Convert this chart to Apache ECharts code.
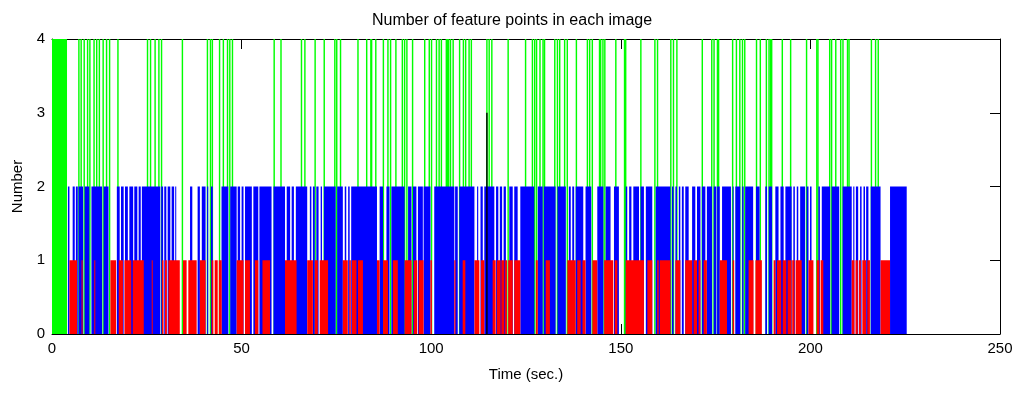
<!DOCTYPE html>
<html lang="en">
<head>
    <meta charset="UTF-8">
    <title>Number of feature points in each image</title>
    <script src="https://cdn.jsdelivr.net/npm/echarts@6/dist/echarts.min.js"></script>
    <style>
        html, body { margin: 0; padding: 0; background: #fff; }
        #graph { width: 1024px; height: 393px; }
    </style>
</head>
<body>
<div id="graph"></div>
<script>
    // samples with 4 points: start block and single-frame spikes (time in sec.)
    var greenBlock = [[0, 3.96]];
    var greenTimes = [6.9, 7.5, 8.3, 9.2, 9.8, 10.9, 11.6, 12.3, 13.3, 14.2, 15.0, 17.2, 25.0, 25.8, 27.0, 28.0, 28.7,
        34.2, 40.8, 41.6, 42.1, 44.0, 45.0, 46.1, 46.7, 47.4, 58.4, 60.2, 65.6, 66.5, 69.2, 71.6, 74.4, 74.9, 75.9,
        80.5, 82.8, 83.9, 84.1, 85.2, 87.2, 88.4, 89.1, 90.5, 92.2, 92.8, 93.4, 94.9, 98.1, 99.3, 99.9, 101.2, 101.9,
        102.5, 103.8, 104.1, 104.4, 104.9, 105.6, 107.3, 108.3, 108.9, 109.8, 110.4, 114.5, 115.1, 115.8, 120.1,
        124.7, 126.5, 127.1, 127.6, 128.5, 129.3, 129.7, 132.4, 133.1, 133.7, 135.0, 135.7, 138.1, 141.0, 141.6,
        142.3, 144.2, 144.5, 145.1, 145.6, 148.5, 150.8, 151.1, 155.1, 158.8, 159.5, 163.0, 163.7, 164.6, 171.3,
        173.8, 174.4, 175.3, 175.6, 179.3, 180.3, 181.2, 181.9, 182.5, 185.6, 186.6, 188.2, 188.9, 189.3, 189.6,
        192.4, 194.6, 198.8, 201.5, 201.8, 204.9, 205.4, 206.5, 207.8, 208.4, 209.6, 210.0, 215.9, 217.0, 217.7];
    // samples with 3 points
    var blackTimes = [114.5];
    // runs of samples with 2 points [from, to]
    var blueRuns = [[4.2, 4.6], [5.45, 6.0], [6.3, 6.8], [7.0, 8.2], [8.6, 9.85], [10.4, 13.2], [13.6, 14.9],
        [17.1, 17.85], [18.2, 18.9], [19.25, 20.0], [20.4, 21.4], [21.7, 22.5], [22.85, 23.4], [23.7, 28.55],
        [28.8, 29.3], [29.6, 30.15], [30.5, 31.2], [31.55, 32.2], [32.5, 32.7],
        [36.4, 37.0], [38.4, 39.0], [39.5, 40.5], [40.9, 41.2], [41.9, 42.4], [44.7, 46.5], [47.0, 48.7],
        [48.97, 49.6], [50.0, 50.5], [50.9, 52.7], [53.1, 54.4], [54.7, 57.9], [58.4, 61.45], [61.9, 62.8],
        [63.2, 63.8], [64.3, 67.3],
        [68.0, 68.4], [68.8, 69.3], [69.7, 70.3], [70.85, 71.2], [71.7, 74.8], [75.2, 76.7], [77.2, 77.6],
        [78.1, 78.5], [78.9, 85.7], [86.4, 87.3], [88.2, 89.0], [89.5, 93.0], [93.9, 94.8], [95.2, 96.1],
        [96.5, 97.8],
        [98.0, 99.8], [100.8, 106.1], [106.3, 107.0], [107.4, 111.4], [112.1, 112.4], [113.0, 113.6],
        [114.0, 116.65], [117.1, 117.7], [118.1, 118.7], [119.1, 119.7], [120.6, 121.5], [121.9, 122.8],
        [123.5, 127.2], [128.1, 129.4], [129.7, 132.8],
        [133.3, 135.5], [136.3, 136.8], [137.2, 137.7], [138.1, 140.1], [140.7, 142.2], [143.8, 145.4],
        [146.0, 147.3], [148.2, 149.5], [151.3, 151.7], [152.2, 152.8], [153.3, 154.8], [155.2, 156.1],
        [156.6, 158.3], [159.2, 163.1],
        [163.5, 163.9], [164.4, 164.8], [165.3, 165.7], [166.1, 166.6], [167.0, 167.9], [168.8, 169.65],
        [170.1, 171.0], [171.4, 172.3], [172.7, 174.05], [174.5, 175.2], [175.4, 176.1], [176.7, 179.05],
        [179.5, 179.75], [180.2, 181.5], [182.0, 182.4], [182.8, 184.9], [185.65, 186.6], [188.1, 188.55],
        [189.0, 189.9], [190.75, 191.6], [192.1, 192.95], [193.4, 195.06],
        [195.5, 195.9], [196.4, 196.8], [197.3, 198.6], [199.0, 199.5], [199.9, 200.3], [202.1, 202.5],
        [203.0, 205.2], [205.6, 207.6], [208.5, 210.9], [211.3, 211.6], [212.0, 212.6], [213.1, 213.5],
        [214.0, 214.4], [214.7, 215.3], [215.9, 218.5], [221.0, 225.4]];
    // runs of samples with 1 point [from, to]
    var redRuns = [[4.6, 6.6], [7.8, 8.0], [11.15, 11.35], [15.4, 16.9], [17.6, 18.7], [19.1, 20.9], [21.3, 24.2],
        [26.3, 26.5], [29.0, 29.4], [29.8, 30.3], [30.7, 33.7],
        [34.55, 35.5], [35.95, 38.15], [39.0, 40.5], [42.1, 42.55], [42.9, 43.7], [44.0, 44.75], [48.7, 50.5],
        [50.9, 52.2], [53.5, 54.4], [55.5, 57.5], [61.45, 64.5],
        [67.3, 68.8], [69.3, 70.1], [70.6, 72.8], [76.7, 78.0], [78.4, 78.8], [79.1, 80.3], [80.7, 82.0],
        [85.7, 86.4], [87.3, 88.6], [89.9, 91.2], [93.0, 94.8], [95.4, 96.3], [96.7, 98.0],
        [99.8, 100.2], [106.1, 106.4], [108.3, 109.0], [111.4, 112.7], [113.1, 114.0], [116.2, 117.0],
        [117.3, 118.3], [118.5, 119.3], [119.5, 120.0], [120.3, 121.5], [121.9, 123.5], [127.6, 128.1],
        [130.2, 131.3], [135.9, 138.1], [138.5, 139.4], [139.9, 140.7], [142.5, 143.8], [145.6, 148.0],
        [148.4, 149.1], [151.3, 156.1], [157.0, 158.3], [159.6, 160.0], [160.3, 163.1],
        [164.4, 165.7], [167.0, 168.8], [169.2, 170.1], [170.5, 171.0], [171.85, 172.7], [176.1, 178.0],
        [179.5, 179.9], [183.7, 185.0], [185.5, 187.2], [190.3, 190.8], [191.2, 192.3], [192.7, 193.65],
        [194.0, 195.0], [195.2, 195.8], [196.1, 197.7], [199.5, 200.8], [201.65, 202.35], [202.7, 203.4],
        [210.9, 211.6], [211.9, 212.5], [212.8, 213.3], [213.7, 214.7], [215.0, 215.7], [218.5, 221.0]];

    var xTicks = [0, 50, 100, 150, 200, 250];
    var yTicks = [0, 1, 2, 3, 4];

    function runs(list, v) {
        return list.map(function (r) { return [r[0], r[1], v]; });
    }
    function spikes(list, v) {
        return list.map(function (t) { return [t, t + 0.38, v]; });
    }

    function renderBar(params, api) {
        var p0 = api.coord([api.value(0), 0]);
        var p1 = api.coord([api.value(1), api.value(2)]);
        return {
            type: 'rect',
            shape: { x: p0[0], y: p1[1], width: Math.max(p1[0] - p0[0], 1), height: p0[1] - p1[1] },
            style: { fill: api.visual('color') }
        };
    }

    function barSeries(name, color, data, z) {
        return {
            name: name, type: 'custom', renderItem: renderBar, data: data, z: z,
            encode: { x: [0, 1], y: 2 }, itemStyle: { color: color }, clip: true, silent: true
        };
    }

    var font = 'Liberation Sans, Arial, sans-serif';
    var myChart = echarts.init(document.getElementById('graph'));
    function axisBase() {
        return {
            axisLine: { show: true, onZero: false, lineStyle: { color: '#000', width: 1 } },
            axisTick: { show: true, inside: true, length: 10, lineStyle: { color: '#000' } },
            splitLine: { show: false }
        };
    }
    var option = {
        animation: false,
        backgroundColor: '#fff',
        title: {
            text: 'Number of feature points in each image',
            left: 'center', top: 8,
            textStyle: { fontFamily: font, fontSize: 16, fontWeight: 'normal', color: '#000' }
        },
        grid: { left: 52, right: 24, top: 39, bottom: 59 },
        xAxis: [
            Object.assign(axisBase(), {
                type: 'value', min: xTicks[0], max: xTicks[xTicks.length - 1], interval: 50, position: 'bottom',
                name: 'Time (sec.)', nameLocation: 'middle', nameGap: 33,
                nameTextStyle: { fontFamily: font, fontSize: 15, color: '#000' },
                axisLabel: { fontFamily: font, fontSize: 15, color: '#000', margin: 7 }
            }),
            Object.assign(axisBase(), {
                type: 'value', min: xTicks[0], max: xTicks[xTicks.length - 1], interval: 50, position: 'top',
                axisLabel: { show: false }
            })
        ],
        yAxis: [
            Object.assign(axisBase(), {
                type: 'value', min: yTicks[0], max: yTicks[yTicks.length - 1], interval: 1, position: 'left',
                name: 'Number', nameLocation: 'middle', nameGap: 27,
                nameTextStyle: { fontFamily: font, fontSize: 15, color: '#000' },
                axisLabel: { fontFamily: font, fontSize: 15, color: '#000', margin: 7 }
            }),
            Object.assign(axisBase(), {
                type: 'value', min: yTicks[0], max: yTicks[yTicks.length - 1], interval: 1, position: 'right',
                axisLabel: { show: false }
            })
        ],
        series: [
            barSeries('4', '#00ff00', runs(greenBlock, 4).concat(spikes(greenTimes, 4)), 2),
            barSeries('2', '#0000ff', runs(blueRuns, 2), 3),
            barSeries('1', '#ff0000', runs(redRuns, 1), 4),
            barSeries('3', '#000000', spikes(blackTimes, 3), 5)
        ]
    };
    myChart.setOption(option);
</script>
</body>
</html>
